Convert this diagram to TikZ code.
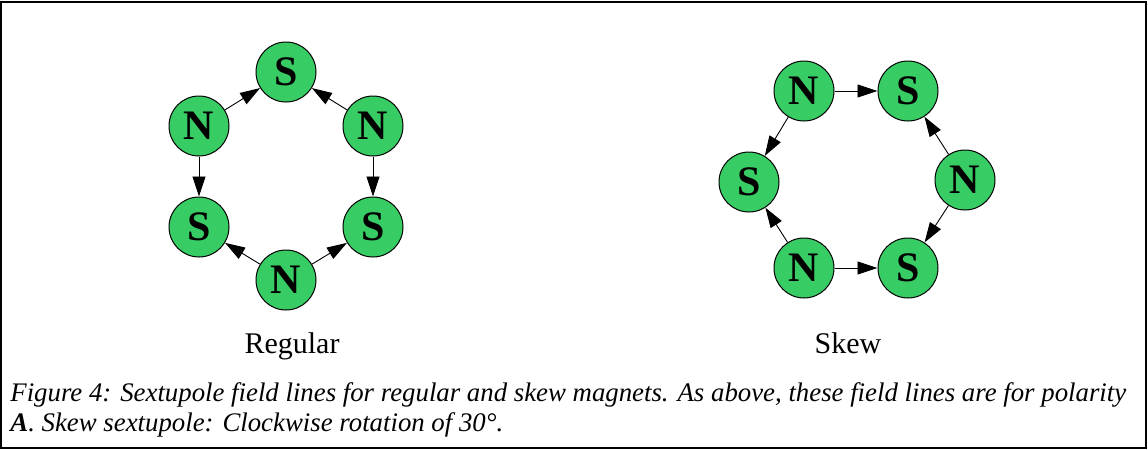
\documentclass[tikz,border=0pt]{standalone}
\usepackage{fontspec}
\setmainfont{Liberation Serif}
\usepackage{xcolor}
\usetikzlibrary{arrows.meta}

\definecolor{poleGreen}{RGB}{55,205,100}
\tikzset{
  pole/.style={circle,draw,line width=0.5pt,fill=poleGreen,minimum size=30pt,inner sep=0pt,
    font=\fontsize{21}{21}\selectfont\bfseries},
  fieldline/.style={-{Triangle[length=10pt,width=6.5pt]},line width=0.45pt},
  sublabel/.style={anchor=base,inner sep=0pt,font=\fontsize{15}{15}\selectfont}
}

\begin{document}
\begin{tikzpicture}[x=0.5pt,y=-0.5pt]
      \useasboundingbox (0,0) rectangle (1148,450);
      \draw[line width=0.6pt] (1,2) rectangle (1146,448);

      % regular sextupole
      \node[pole] (rS1) at (286,72)  {S};
      \node[pole] (rN1) at (199,126) {N};
      \node[pole] (rN2) at (373,126) {N};
      \node[pole] (rS2) at (199,227) {S};
      \node[pole] (rS3) at (373,227) {S};
      \node[pole] (rN3) at (286,280) {N};
      \path[fieldline] (rN1) edge (rS1);
      \path[fieldline] (rN2) edge (rS1);
      \path[fieldline] (rN1) edge (rS2);
      \path[fieldline] (rN2) edge (rS3);
      \path[fieldline] (rN3) edge (rS2);
      \path[fieldline] (rN3) edge (rS3);
      \node[sublabel] (regular) at (292,353) {Regular};

      % skew sextupole
      \node[pole] (sN1) at (804,91)  {N};
      \node[pole] (sS1) at (908,91)  {S};
      \node[pole] (sS2) at (749,182) {S};
      \node[pole] (sN2) at (965,180) {N};
      \node[pole] (sN3) at (804,268) {N};
      \node[pole] (sS3) at (908,268) {S};
      \path[fieldline] (sN1) edge (sS1);
      \path[fieldline] (sN1) edge (sS2);
      \path[fieldline] (sN2) edge (sS1);
      \path[fieldline] (sN2) edge (sS3);
      \path[fieldline] (sN3) edge (sS2);
      \path[fieldline] (sN3) edge (sS3);
      \node[sublabel] (skew) at (848,353) {Skew};

      \node[anchor=base west,inner sep=0pt,align=left,font=\fontsize{13.4}{15}\selectfont\itshape] (caption) at (10,431)
        {Figure 4: Sextupole field lines for regular and skew magnets. As above, these field lines are for polarity\\
         \textbf{A}. Skew sextupole: Clockwise rotation of 30°.};
    \end{tikzpicture}
\end{document}
